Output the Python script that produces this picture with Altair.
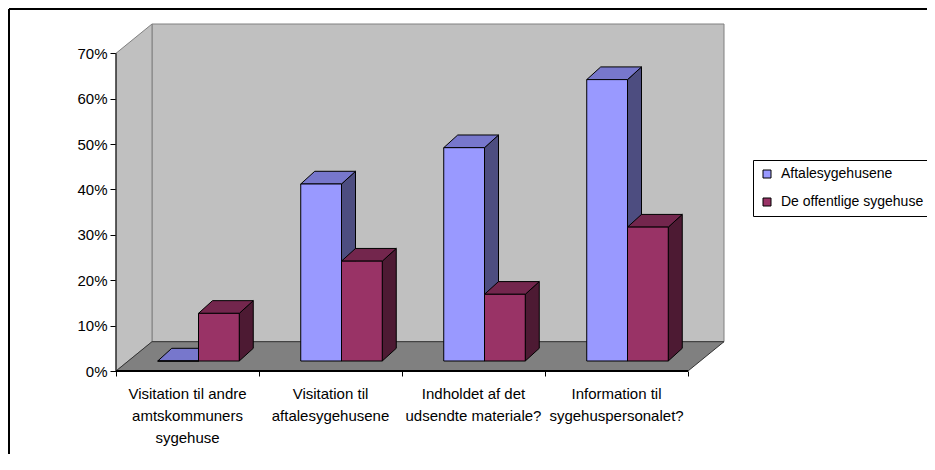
import altair as alt
import pandas as pd

# ---------------- data ----------------
categories = [
    "Visitation til andre\namtskommuners\nsygehuse",
    "Visitation til\naftalesygehusene",
    "Indholdet af det\nudsendte materiale?",
    "Information til\nsygehuspersonalet?",
]
series_names = ["Aftalesygehusene", "De offentlige sygehuse"]
aftale = [0.0, 0.39, 0.47, 0.62]
offentlige = [0.105, 0.22, 0.147, 0.295]
y_ticks = [0.0, 0.1, 0.2, 0.3, 0.4, 0.5, 0.6, 0.7]

# ---------------- style / geometry ----------------
front_colors = ["#9999FF", "#993366"]
top_colors = ["#7777CC", "#73264D"]
side_colors = ["#4D4D80", "#4D1A33"]
FONT = "Arial, Liberation Sans"

PX_X = 143.0          # px per category
PX_Y = 453.9          # px per 100 %
DX = 36 / PX_X        # wall depth (x)
DY = 29.3 / PX_Y      # wall depth (y)
Y_MAX = 0.70
X_MAX = 4 + DX
Y_TOP = Y_MAX + DY
W = round(X_MAX * PX_X)
H = round(Y_TOP * PX_Y)
SX = 11 / PX_X        # bar front plane offset
SY = 10 / PX_Y
BX = 14 / PX_X        # bar depth
BY = 12.7 / PX_Y
BW = 0.285            # bar width (category units)

xs = alt.Scale(domain=[0, X_MAX], nice=False, zero=False)
ys = alt.Scale(domain=[0, Y_TOP], nice=False, zero=False)
xaxis = alt.Axis(values=[0, 1, 2, 3, 4], labels=False, title=None, domain=False,
                 grid=False, ticks=True, tickSize=5, tickColor="black", tickWidth=1)
yaxis = alt.Axis(values=y_ticks, format=".0%", title=None, domain=False, grid=False,
                 ticks=True, tickSize=6, tickColor="black", tickWidth=1,
                 labelFontSize=15, labelFont=FONT, labelColor="black", labelPadding=3)


def X(f):
    return alt.X(f, scale=xs, axis=xaxis)


def Y(f):
    return alt.Y(f, scale=ys, axis=yaxis)


# ---------------- tables built from the data ----------------
fronts, sides, tops = [], [], []
for j, vals in enumerate([aftale, offentlige]):
    for i, v in enumerate(vals):
        c = i + 0.5 + SX
        x0 = c - BW if j == 0 else c
        x1 = c if j == 0 else c + BW
        y0, y1 = SY, SY + v
        bid = f"{j}-{i}"
        fronts.append(dict(series=series_names[j], si=j, x0=x0, x1=x1, y0=y0, y1=y1))
        sides.append(dict(id=bid, si=j, x=x1, yt=y1, yb=y0, fill=side_colors[j]))
        sides.append(dict(id=bid, si=j, x=x1 + BX, yt=y1 + BY, yb=y0 + BY, fill=side_colors[j]))
        tops.append(dict(id=bid, si=j, y=y1, xl=x0, xr=x1, fill=top_colors[j]))
        tops.append(dict(id=bid, si=j, y=y1 + BY, xl=x0 + BX, xr=x1 + BX, fill=top_colors[j]))
fronts = pd.DataFrame(fronts)
sides = pd.DataFrame(sides)
tops = pd.DataFrame(tops)

back_wall = pd.DataFrame([dict(x0=DX, x1=X_MAX, y0=DY, y1=Y_TOP)])
left_wall = pd.DataFrame([dict(x=0.0, yt=Y_MAX, yb=0.0), dict(x=DX, yt=Y_TOP, yb=DY)])
floor = pd.DataFrame([dict(y=0.0, xl=0.0, xr=4.0), dict(y=DY, xl=DX, xr=X_MAX)])
axis_lines = pd.DataFrame([dict(x=0.0, x2=4.0, y=0.0, y2=Y_MAX)])
cat_df = pd.DataFrame(dict(x=[i + 0.5 for i in range(len(categories))], label=categories))
one = pd.DataFrame([dict(a=1)])

legend = alt.Legend(
    title=None, orient="none", legendX=637, legendY=136, symbolType="square",
    symbolSize=64, symbolStrokeColor="black", symbolStrokeWidth=1, symbolOpacity=1,
    labelFontSize=14, labelFont=FONT, labelColor="black", labelOffset=7,
    strokeColor="black", fillColor="white", padding=7, rowPadding=14,
)
color = alt.Color("series:N", scale=alt.Scale(domain=series_names, range=front_colors),
                  legend=legend)

layers = []
layers.append(alt.Chart(back_wall).mark_rect(fill="#C0C0C0", stroke="#808080", strokeWidth=1)
              .encode(x=X("x0:Q"), x2="x1:Q", y=Y("y0:Q"), y2="y1:Q"))
layers.append(alt.Chart(left_wall).mark_area(orient="vertical", fill="#C0C0C0", stroke="#808080",
                                              strokeWidth=1)
              .encode(x=X("x:Q"), y=Y("yt:Q"), y2="yb:Q"))
layers.append(alt.Chart(floor).mark_area(orient="horizontal", fill="#808080", stroke="#333333",
                                          strokeWidth=1)
              .encode(y=Y("y:Q"), x=X("xl:Q"), x2="xr:Q"))
layers.append(alt.Chart(axis_lines).mark_rule(color="black", strokeWidth=2)
              .encode(x=X("x:Q"), x2="x2:Q", y=Y("y:Q")))
layers.append(alt.Chart(axis_lines).mark_rule(color="black", strokeWidth=1)
              .encode(x=X("x:Q"), y=Y("y:Q"), y2="y2:Q"))

for j in range(2):
    layers.append(alt.Chart(sides[sides.si == j]).mark_area(orient="vertical", stroke="black",
                                                           strokeWidth=1, opacity=1)
                  .encode(x=X("x:Q"), y=Y("yt:Q"), y2="yb:Q", detail="id:N",
                          fill=alt.Fill("fill:N", scale=None)))
    layers.append(alt.Chart(tops[tops.si == j]).mark_area(orient="horizontal", stroke="black",
                                                         strokeWidth=1, opacity=1)
                  .encode(y=Y("y:Q"), x=X("xl:Q"), x2="xr:Q", detail="id:N",
                          fill=alt.Fill("fill:N", scale=None)))
    layers.append(alt.Chart(fronts[fronts.si == j]).mark_rect(stroke="black", strokeWidth=1,
                                                             opacity=1)
                  .encode(x=X("x0:Q"), x2="x1:Q", y=Y("y0:Q"), y2="y1:Q", color=color))

layers.append(alt.Chart(cat_df).mark_text(lineBreak="\n", align="center", baseline="top",
                                          fontSize=15, lineHeight=22, font=FONT, color="black")
              .encode(x=X("x:Q"), y=alt.value(H + 16), text="label:N"))

# chart frame (left and top edges)
layers.append(alt.Chart(one).mark_rule(color="black", strokeWidth=2)
              .encode(x=alt.value(-107), y=alt.value(-15), y2=alt.value(H + 300)))
layers.append(alt.Chart(one).mark_rule(color="black", strokeWidth=2)
              .encode(x=alt.value(-107), x2=alt.value(W + 400), y=alt.value(-15)))

chart = alt.layer(*layers).properties(
    width=W, height=H,
    autosize=alt.AutoSizeParams(type="none"),
    padding={"left": 108, "top": 16, "right": 919 - 108 - W, "bottom": 446 - 16 - H},
    background="white",
).configure_view(stroke=None)

chart.save("out.html", embed_options={"renderer": "svg", "actions": False})
